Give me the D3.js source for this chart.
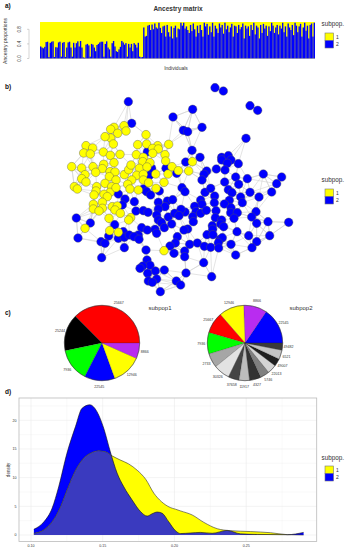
<!DOCTYPE html>
<head>
    <meta charset="utf-8">
    <script src="https://d3js.org/d3.v7.min.js"></script>
    <style>
      body { margin: 0; background: white; }
      text { font-family: "Liberation Sans"; fill: #333; }
      .panel { font-size: 6.5px; font-weight: bold; fill: #111; }
    </style>
</head>
<body>
<script>
// a) ancestry: share of subpop 2 for each individual (rest is subpop 1)
var ancestryPop1 = [.33,.3,.28,.32,.45,.46,.04,.43,.46,.47,.04,.31,.3,.44,.46,.05,.43,.45,.04,.3,.44,.46,.3,.05,.43,.3,.42,.47,.33,.48,.3,.03,.02,.38,.4,.36,.05,.4,.38,.3,.2,.37,.4,.44,.46,.46,.05,.4,.47,.3,.25,.05,.42,.48,.33,.2,.18,.25,.32,.48,.44,.38,.42,.05,.4,.3,.4,.2,.42,.38,.3,.43,.05,.03,.04];
var ancestryPop2 = [.85,.6,.62,.9,.92,.78,.93,.8,.96,.85,.82,.98,.84,.7,.88,.9,.6,.92,.72,.6,.88,.55,.84,.9,.58,.82,.8,.98,.9,.98,.82,.88,.78,.7,.92,.75,.96,.8,.6,.9,.7,.92,.78,.6,.98,.88,.95,.65,.88,.72,.98,.6,.9,.82,.7,.96,.85,.92,.68,.98,.8,.9,.72,.85,.95,.6,.9,.88,.7,.92,.8,.86,.96,.55,.9,.82,.88,.62,.92,.78,.98,.66,.9,.85,.55,.92,.7,.95,.82,.9,.62,.88,.75,.98,.9,.7,.85,.92,.66,.9,.82,.98,.72,.88,.6,.96,.85,.78,.92,.64,.98,.9,.72,.88,.95,.6,.85,.98,.76,.9,.55,.92,.96,.6,.98];
var ancestryTicks = [0, .4, .8];

// b) network layout, read per quadrant of the plot
var yellowNW = [[282,137],[252,142],[242,148],[288,153],[263,160],[242,174],[225,170],[250,192],[348,164],[323,194],[350,192],[383,197],[416,193],[168,197],[188,204],[161,219],[181,222],[220,216],[241,226],[270,223],[319,224],[340,232],[368,205],[385,207],[368,220],[405,224],[338,245],[360,248],[407,243],[252,248],[125,260],[155,264],[189,260],[221,253],[217,266],[197,277],[165,284],[155,296],[168,306],[240,275],[255,276],[238,290],[258,300],[225,310],[283,284],[296,269],[303,255],[328,265],[351,261],[320,286],[340,283],[377,282],[414,282],[305,300],[340,300],[293,313],[356,308],[402,307]];
var blueNW = [[295,65],[305,130],[352,215],[408,265],[360,285],[365,265]];
var yellowNE = [[67,245],[6,260],[25,272],[56,273]];
var blueNE = [[135,23],[160,33],[240,77],[263,91],[68,88],[9,111],[96,142],[40,151],[53,155],[228,175],[66,211],[90,232],[47,246],[155,232],[175,227],[155,240],[183,240],[172,250],[205,251],[139,267],[165,270],[110,273],[102,283],[96,300],[197,291],[232,296],[164,306],[206,313],[280,282],[335,291],[320,311],[20,280]];
var yellowSW = [[133,5],[142,12],[200,5],[198,18],[192,30],[245,5],[240,22],[222,28],[232,35],[258,8],[300,12],[325,15],[378,10],[217,52],[190,58],[190,72],[217,70],[207,78],[247,65],[262,63],[255,75],[271,85],[237,100],[302,98],[296,105],[165,130],[239,137],[265,142],[402,197]];
var blueSW = [[139,99],[181,114],[144,159],[254,119],[236,153],[213,170],[225,175],[283,188],[215,218],[265,27],[285,42],[277,60],[313,50],[318,78],[340,77],[354,82],[340,12],[350,20],[362,30],[388,18],[385,52],[412,48],[405,65],[385,72],[380,90],[415,96],[385,105],[395,113],[403,128],[335,128],[352,135],[375,133],[380,145],[280,140],[265,160],[283,157],[298,150],[325,150],[312,155],[327,163],[348,195],[351,225],[360,241],[338,243],[330,250],[403,255],[376,258],[353,265],[380,282],[355,288],[367,292],[391,320]];
var blueSE = [[36,8],[45,20],[105,22],[122,10],[175,14],[186,23],[240,22],[305,21],[267,36],[212,36],[217,53],[134,33],[133,53],[92,45],[96,58],[178,46],[163,57],[8,44],[74,64],[78,80],[92,85],[109,76],[138,77],[136,98],[183,68],[182,83],[202,83],[192,100],[258,80],[245,96],[294,110],[356,112],[260,115],[155,105],[152,117],[161,125],[68,95],[70,110],[45,81],[33,73],[14,85],[27,92],[5,117],[127,122],[128,133],[53,132],[42,135],[22,155],[111,149],[129,149],[150,163],[157,158],[145,173],[201,140],[236,152],[299,152],[260,170],[246,188],[183,178],[16,174],[0,183],[59,178],[82,174],[103,184],[122,187],[146,189],[197,210],[12,205],[44,198],[44,215],[101,233],[48,264],[125,275],[19,288],[32,300]];

// c) pies, share in degrees
var pie1Labels = ["25667","25244","7936","22545","12946","8866"];
var pie1Values = [135,57,51,47,46,24];
var pie1Colors = ["#ff0000","#000000","#00ff00","#0000ff","#ffff00","#b92cf0"];
var pie2Labels = ["22545","8866","12946","25667","7936","2733","30326","37658","11917","4327","5746","22013","49007","6521","49482"];
var pie2Values = [56,36,39,33,33,22,25,17,16,18,14,14,12,14,11];
var pie2Colors = ["#0000ff","#b92cf0","#ffff00","#ff0000","#00ff00","#a6a6a6","#e2e2e2","#444444","#bdbdbd","#333333","#808080","#d4d4d4","#1f1f1f","#c4c4c4","#3a3a3a"];

// d) densities
var densX1 = [.102,.109,.1147,.1205,.125,.131,.1367,.1426,.147,.152,.1565,.162,.168,.174,.18,.1856,.191,.197,.2007,.2042,.2123,.2205,.2298,.239,.253,.267,.2786,.29];
var densY1 = [.3,.9,2.3,4.9,7.8,11.3,13.4,14.4,14.7,14.5,13.8,13.1,12.4,11.3,9.7,7.3,5.8,4.8,4.5,4.2,3.5,2.2,1.1,.75,.6,.4,.06,0];
var densX2 = [.102,.109,.1147,.1193,.125,.131,.1356,.141,.146,.1507,.1553,.16,.1647,.1705,.1763,.181,.1844,.188,.1914,.196,.2007,.2042,.211,.218,.2263,.2367,.246,.2577,.2786,.29];
var densY2 = [1,2.3,4.65,8.4,14.2,18.9,22.1,22.7,21.5,18.6,14.5,10.8,8.4,6.1,4.1,3.3,3.7,4,3.8,2.3,.75,.25,.35,.45,.3,.8,.2,.1,.05,.45];
var densXTicks = [.10,.15,.20,.25];
var densYTicks = [0,5,10,15,20];
var popLabels = ["1","2"];
var popColors = ["#ffff00","#0000ff"];

var svg = d3.select("body").append("svg").attr("width", 345).attr("height", 550);

function panelLabel(t, y) {
  svg.append("text").attr("class", "panel").attr("x", 5).attr("y", y).text(t);
}
panelLabel("a)", 8);
panelLabel("b)", 89);
panelLabel("c)", 315);
panelLabel("d)", 394);

function legend(titleY, boxY, boxH) {
  svg.append("text").attr("x", 321.5).attr("y", titleY).attr("font-size", 6.3).text("subpop.");
  popLabels.forEach(function(p, i) {
    svg.append("rect").attr("x", 325).attr("y", boxY + i * boxH)
      .attr("width", 8.5).attr("height", boxH)
      .attr("fill", popColors[i]).attr("stroke", "#777").attr("stroke-width", 0.6);
    svg.append("text").attr("x", 336).attr("y", boxY + i * boxH + boxH / 2 + 2)
      .attr("font-size", 5).text(p);
  });
}

// ANCESTRY
var ancestry = ancestryPop1.concat(ancestryPop2);
var ax = d3.scaleBand().domain(d3.range(ancestry.length)).range([40, 315]);
var ay = d3.scaleLinear().domain([0, 1]).range([58.5, 22]);
svg.append("rect").attr("x", 40).attr("y", ay(1)).attr("width", 275).attr("height", ay(0) - ay(1)).attr("fill", popColors[0]);
svg.selectAll(".abar").data(ancestry).enter().append("rect")
  .attr("class", "abar")
  .attr("x", function(d, i) { return ax(i); })
  .attr("y", function(d) { return ay(d); })
  .attr("width", ax.bandwidth())
  .attr("height", function(d) { return ay(0) - ay(d); })
  .attr("fill", popColors[1]);
svg.append("line").attr("x1", 29).attr("x2", 29).attr("y1", ay(.8)).attr("y2", ay(0)).attr("stroke", "#aaa").attr("stroke-width", 0.5);
ancestryTicks.forEach(function(t) {
  svg.append("line").attr("x1", 27).attr("x2", 29).attr("y1", ay(t)).attr("y2", ay(t)).attr("stroke", "#aaa").attr("stroke-width", 0.5);
  svg.append("text").attr("transform", "translate(21," + ay(t) + ") rotate(-90)")
    .attr("text-anchor", "middle").attr("font-size", 4.5).text(d3.format(".1f")(t));
});
svg.append("text").attr("x", 178).attr("y", 11).attr("text-anchor", "middle").attr("font-size", 6.5).attr("font-weight", "bold").attr("fill", "#111").text("Ancestry matrix");
svg.append("text").attr("x", 176).attr("y", 70).attr("text-anchor", "middle").attr("font-size", 5).text("Individuals");
svg.append("text").attr("transform", "translate(7,41) rotate(-90)").attr("text-anchor", "middle").attr("font-size", 5).text("Ancestry proportions");
legend(26, 33, 7.5);

// NETWORK
function quadrant(points, x0, y0, pop) {
  var sx = d3.scaleLinear().domain([0, 3]).range([x0, x0 + 1]);
  var sy = d3.scaleLinear().domain([0, 3]).range([y0, y0 + 1]);
  return points.map(function(p) { return {x: sx(p[0]), y: sy(p[1]), pop: pop}; });
}
var nodes = [].concat(
  quadrant(blueNW, 30, 80, 1), quadrant(blueNE, 170, 80, 1),
  quadrant(blueSW, 30, 185, 1), quadrant(blueSE, 170, 185, 1),
  quadrant(yellowNW, 30, 80, 0), quadrant(yellowNE, 170, 80, 0),
  quadrant(yellowSW, 30, 185, 0)
);
// edges: nearest neighbours, no edge list to read from the picture
var edges = [];
nodes.forEach(function(a) {
  var near = nodes.filter(function(b) { return b !== a; })
    .map(function(b) { return {b: b, d: Math.hypot(a.x - b.x, a.y - b.y)}; })
    .sort(function(p, q) { return p.d - q.d; })
    .slice(0, 6)
    .filter(function(p) { return p.d < 30; });
  near.forEach(function(p) { edges.push([a, p.b]); });
});
svg.selectAll(".edge").data(edges).enter().append("line")
  .attr("class", "edge")
  .attr("x1", function(d) { return d[0].x; }).attr("y1", function(d) { return d[0].y; })
  .attr("x2", function(d) { return d[1].x; }).attr("y2", function(d) { return d[1].y; })
  .attr("stroke", "#d2d2d2").attr("stroke-width", 0.6);
svg.selectAll(".node").data(nodes).enter().append("circle")
  .attr("class", "node")
  .attr("cx", function(d) { return d.x; }).attr("cy", function(d) { return d.y; })
  .attr("r", 4.3)
  .attr("fill", function(d) { return popColors[d.pop]; })
  .attr("stroke", "#555").attr("stroke-width", 0.4);
legend(182, 189, 7.5);

// PIES
function drawPie(cx, cy, r, labels, values, colors) {
  // R pie: counter clockwise from 3 o'clock
  var pie = d3.pie().sort(null).startAngle(Math.PI / 2).endAngle(Math.PI / 2 - 2 * Math.PI);
  var arc = d3.arc().innerRadius(0).outerRadius(r);
  var labelArc = d3.arc().innerRadius(r + 6).outerRadius(r + 6);
  var g = svg.append("g").attr("transform", "translate(" + cx + "," + cy + ")");
  var arcs = pie(values);
  g.selectAll("path").data(arcs).enter().append("path")
    .attr("d", arc)
    .attr("fill", function(d, i) { return colors[i]; })
    .attr("stroke", "#222").attr("stroke-width", 0.2);
  g.append("circle").attr("r", r).attr("fill", "none").attr("stroke", "#333").attr("stroke-width", 0.5);
  g.selectAll("text").data(arcs).enter().append("text")
    .attr("transform", function(d) { return "translate(" + labelArc.centroid(d) + ")"; })
    .attr("text-anchor", "middle").attr("dy", 1.2)
    .attr("font-size", 3.6).attr("fill", "#444")
    .text(function(d, i) { return labels[i]; });
}
drawPie(102, 343, 37.7, pie1Labels, pie1Values, pie1Colors);
drawPie(245, 343, 37.7, pie2Labels, pie2Values, pie2Colors);
svg.append("text").attr("x", 160).attr("y", 310).attr("text-anchor", "middle").attr("font-size", 6).text("subpop1");
svg.append("text").attr("x", 301).attr("y", 310).attr("text-anchor", "middle").attr("font-size", 6).text("subpop2");

// DENSITY
var dx = d3.scaleLinear().domain([.10, .25]).range([31, 246.2]);
var dy = d3.scaleLinear().domain([0, 20]).range([535, 420.3]);
var pl = 19, pr = 316.7, pt = 398, pb = 541.5;
d3.range(.075, .30, .025).forEach(function(t) {
  var major = Math.abs(t * 20 - Math.round(t * 20)) < 1e-6;
  if (dx(t) < pl || dx(t) > pr) return;
  svg.append("line").attr("x1", dx(t)).attr("x2", dx(t)).attr("y1", pt).attr("y2", pb)
    .attr("stroke", "#ebebeb").attr("stroke-width", major ? 0.6 : 0.3);
});
d3.range(0, 25, 2.5).forEach(function(t) {
  var major = t % 5 === 0;
  svg.append("line").attr("x1", pl).attr("x2", pr).attr("y1", dy(t)).attr("y2", dy(t))
    .attr("stroke", "#ebebeb").attr("stroke-width", major ? 0.6 : 0.3);
});
function toPts(xs, ys) { return xs.map(function(x, i) { return [x, ys[i]]; }); }
var pts1 = toPts(densX1, densY1), pts2 = toPts(densX2, densY2);
var area = d3.area().x(function(d) { return dx(d[0]); }).y0(dy(0)).y1(function(d) { return dy(d[1]); }).curve(d3.curveMonotoneX);
var line = d3.line().x(function(d) { return dx(d[0]); }).y(function(d) { return dy(d[1]); }).curve(d3.curveMonotoneX);
svg.append("clipPath").attr("id", "blueclip").append("path").attr("d", area(pts2));
svg.append("path").attr("d", area(pts2)).attr("fill", popColors[1]);
svg.append("path").attr("d", area(pts1)).attr("fill", popColors[0]);
svg.append("path").attr("d", area(pts1)).attr("fill", "#3a3abf").attr("clip-path", "url(#blueclip)");
svg.append("path").attr("d", line(pts2)).attr("fill", "none").attr("stroke", "#111").attr("stroke-width", 0.6);
svg.append("path").attr("d", line(pts1)).attr("fill", "none").attr("stroke", "#333").attr("stroke-width", 0.6);
svg.append("rect").attr("x", pl).attr("y", pt).attr("width", pr - pl).attr("height", pb - pt)
  .attr("fill", "none").attr("stroke", "#bbb").attr("stroke-width", 0.8);
densXTicks.forEach(function(t) {
  svg.append("text").attr("x", dx(t)).attr("y", 546.5).attr("text-anchor", "middle").attr("font-size", 3.6).attr("fill", "#555").text(d3.format(".2f")(t));
});
densYTicks.forEach(function(t) {
  svg.append("text").attr("x", 16.5).attr("y", dy(t) + 1.2).attr("text-anchor", "end").attr("font-size", 3.6).attr("fill", "#555").text(t);
});
svg.append("text").attr("transform", "translate(10,470) rotate(-90)").attr("text-anchor", "middle").attr("font-size", 4.5).text("density");
legend(460, 466, 7.5);
</script>
</body>
